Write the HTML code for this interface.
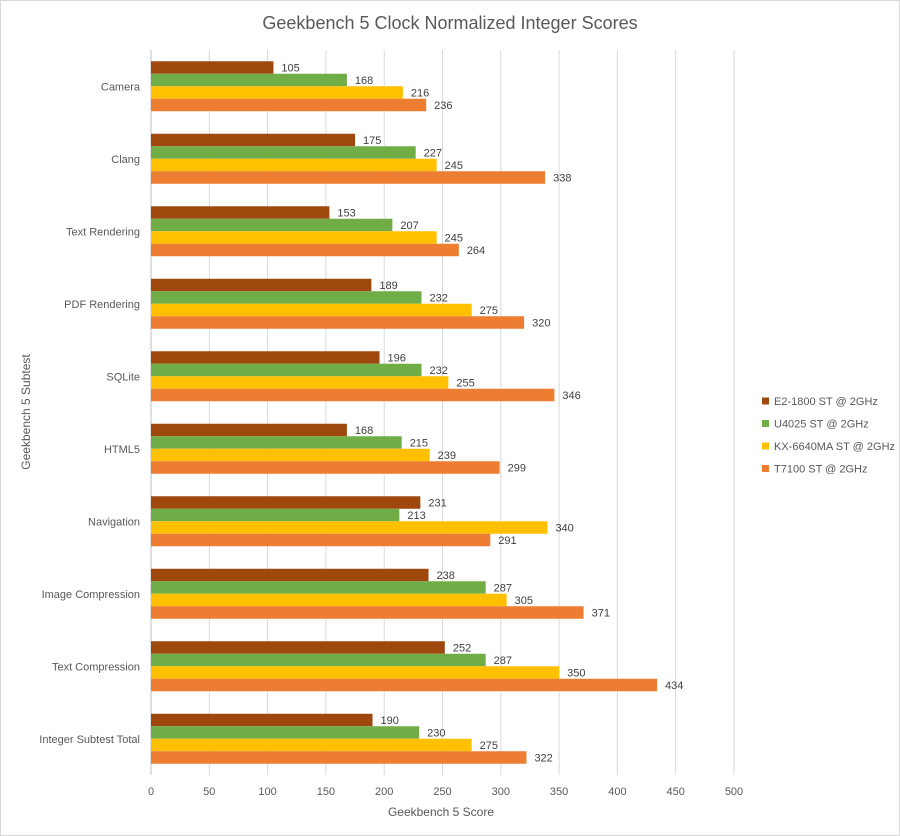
<!DOCTYPE html>
<html><head><meta charset="utf-8"><style>
html,body{margin:0;padding:0;background:#fff;}
svg{display:block;font-family:"Liberation Sans",sans-serif;}
</style></head><body>
<svg id="chart" width="900" height="836">
<rect x="0.5" y="0.5" width="899" height="835" fill="#fff" stroke="#d9d9d9"/>
<text x="450" y="29" text-anchor="middle" font-size="18" fill="#595959">Geekbench 5 Clock Normalized Integer Scores</text>
<g id="grid"></g><g id="bars"></g><g id="labels"></g><g id="ticks"></g>
<text transform="translate(30,412) rotate(-90)" text-anchor="middle" font-size="12" fill="#595959">Geekbench 5 Subtest</text>
<text x="441" y="816" text-anchor="middle" font-size="12" fill="#595959">Geekbench  5 Score</text>
<g id="legend"></g>
</svg>
<script>
const categories=["Camera","Clang","Text Rendering","PDF Rendering","SQLite","HTML5","Navigation","Image Compression","Text Compression","Integer Subtest Total"];
const seriesNames=["E2-1800 ST @ 2GHz","U4025 ST @ 2GHz","KX-6640MA ST @ 2GHz","T7100 ST @ 2GHz"];
const e2=[105,175,153,189,196,168,231,238,252,190];
const u4025=[168,227,207,232,232,215,213,287,287,230];
const kx=[216,245,245,275,255,239,340,305,350,275];
const t7100=[236,338,264,320,346,299,291,371,434,322];
const xTicks=[0,50,100,150,200,250,300,350,400,450,500];
const colors=["#9E480E","#70AD47","#FFC000","#ED7D31"];
const series=[e2,u4025,kx,t7100];
const NS="http://www.w3.org/2000/svg";
const xLeft=151,xRight=734,xMax=500,yTop=50,yBottom=775;
const band=(yBottom-yTop)/categories.length,bh=12.5;
const xs=v=>xLeft+(v/xMax)*(xRight-xLeft);
function mk(t,a,p){const e=document.createElementNS(NS,t);for(const k in a)e.setAttribute(k,a[k]);p.appendChild(e);return e;}
const grid=document.getElementById('grid'),bars=document.getElementById('bars'),labels=document.getElementById('labels'),ticks=document.getElementById('ticks'),legend=document.getElementById('legend');
xTicks.forEach(t=>{
 const l=mk('line',{x1:xs(t),x2:xs(t),y1:yTop,y2:yBottom,stroke:t===0?'#bfbfbf':'#d9d9d9','stroke-width':1},grid);
 
 
 const tx=mk('text',{x:xs(t),y:795,'text-anchor':'middle','font-size':11,fill:'#595959'},ticks);
 tx.textContent=t;
 
 
});
categories.forEach((c,i)=>{
 const cy=yTop+band*(i+0.5);
 const ct=mk('text',{x:140,y:cy+4,'text-anchor':'end','font-size':11,fill:'#595959'},ticks);
 ct.textContent=c;
 
 
 series.forEach((s,j)=>{
  const y=cy-2*bh+j*bh;
  const r=mk('rect',{x:xLeft,y:y,width:xs(s[i])-xLeft,height:bh,fill:colors[j]},bars);
  
  
  const t=mk('text',{x:xs(s[i])+8,y:y+bh/2+4,'font-size':11,fill:'#404040'},labels);
  t.textContent=s[i];
  
  
 });
});
seriesNames.forEach((n,j)=>{
 const y=401+j*22.5;
 const r=mk('rect',{x:762,y:y-3.5,width:7,height:7,fill:colors[j]},legend);
 
 
 const t=mk('text',{x:774,y:y+4,'font-size':11,fill:'#595959'},legend);
 t.textContent=n;
 
 
});
</script>
</body></html>
